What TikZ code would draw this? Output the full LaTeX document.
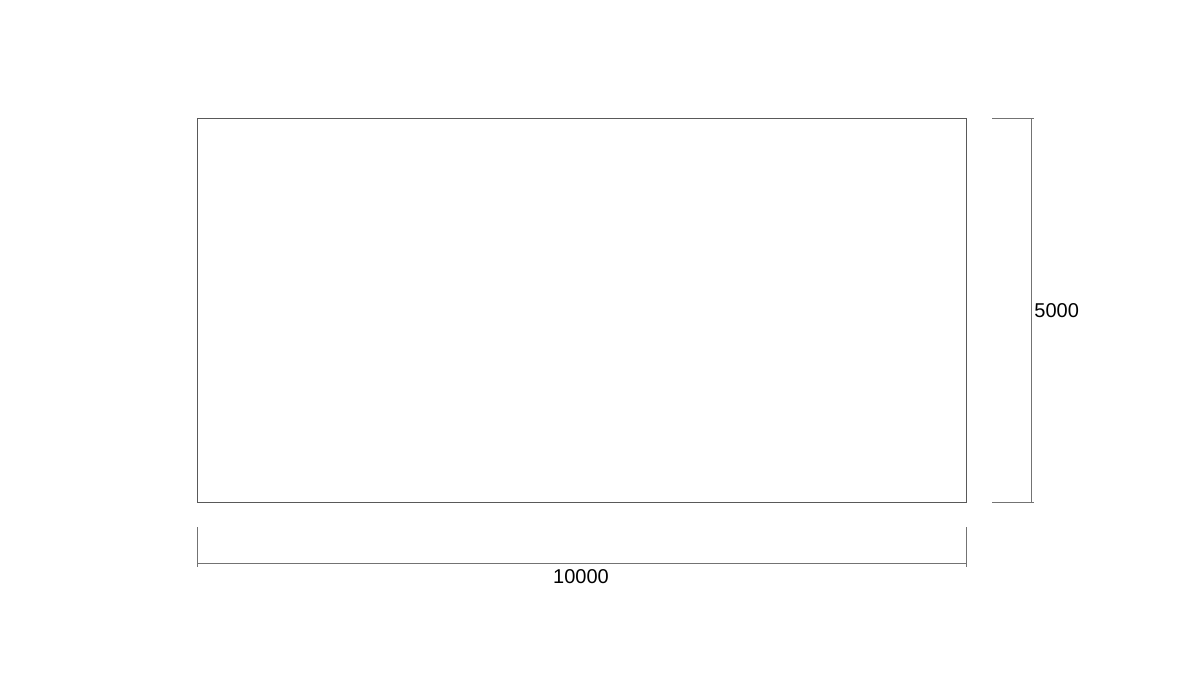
\documentclass[tikz,border=0pt]{standalone}
\usepackage{fontspec}
\setmainfont{Liberation Sans}
\begin{document}
\begin{tikzpicture}[x=0.5pt,y=-0.5pt,
  outline/.style={draw=black!65,line width=0.5pt},
  dimline/.style={draw=black!55,line width=0.5pt},
  dimtext/.style={font=\fontsize{10}{12}\selectfont,text=black,inner sep=0pt}]
\useasboundingbox (0,0) rectangle (1200,675);
\node[outline,minimum width=384.5pt,minimum height=192pt,inner sep=0pt,anchor=north west] (plate) at (197,118) {};
% horizontal dimension
\coordinate (hl1) at (197,527);
\coordinate (hl2) at (197,567);
\coordinate (hr1) at (966,527);
\coordinate (hr2) at (966,567);
\coordinate (hm1) at (197,563);
\coordinate (hm2) at (966,563);
\draw[dimline] (hl1) -- (hl2);
\draw[dimline] (hr1) -- (hr2);
\draw[dimline] (hm1) -- (hm2);
\node[dimtext] (wlabel) at (581,577) {10000};
% vertical dimension
\coordinate (vt1) at (992,118);
\coordinate (vt2) at (1034,118);
\coordinate (vb1) at (992,502);
\coordinate (vb2) at (1034,502);
\coordinate (vm1) at (1031,118);
\coordinate (vm2) at (1031,502);
\draw[dimline] (vt1) -- (vt2);
\draw[dimline] (vb1) -- (vb2);
\draw[dimline] (vm1) -- (vm2);
\node[dimtext,anchor=west] (hlabel) at (1034,311) {5000};
\end{tikzpicture}
\end{document}
